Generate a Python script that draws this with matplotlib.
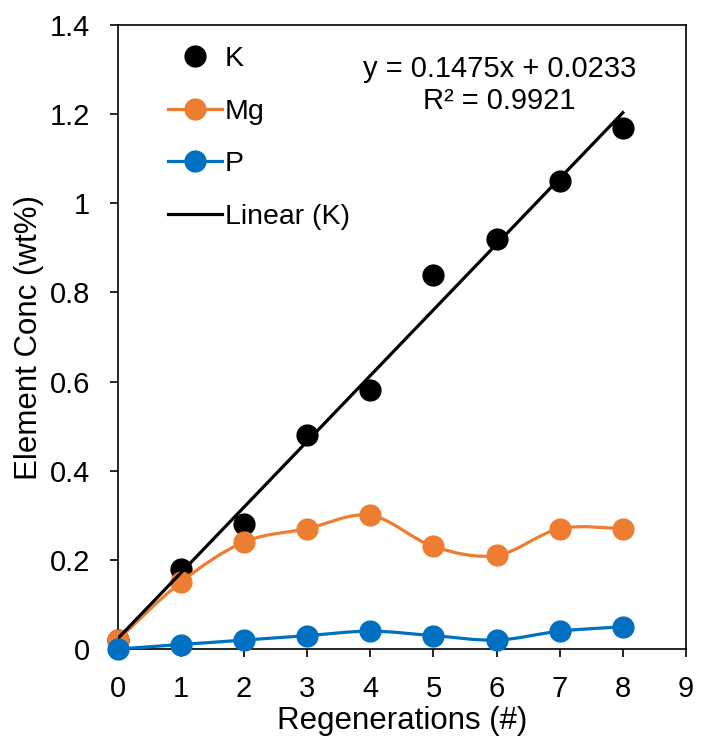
import matplotlib.pyplot as plt
import numpy as np
from matplotlib.path import Path
from matplotlib.patches import PathPatch
from matplotlib.lines import Line2D
from matplotlib.ticker import FormatStrFormatter

plt.rcParams['font.family'] = ['Liberation Sans', 'DejaVu Sans']

# data
regen = [0, 1, 2, 3, 4, 5, 6, 7, 8]
k_conc = [0.02, 0.18, 0.28, 0.48, 0.58, 0.84, 0.92, 1.05, 1.17]
mg_conc = [0.02, 0.15, 0.24, 0.27, 0.30, 0.23, 0.21, 0.27, 0.27]
p_conc = [0.0, 0.01, 0.02, 0.03, 0.04, 0.03, 0.02, 0.04, 0.05]
slope, intercept = 0.1475, 0.0233
eq_text = 'y = 0.1475x + 0.0233\nR² = 0.9921'

orange = '#ED7D31'
blue = '#0070C0'


def smooth_path(x, y):
    """Excel-like smoothed line as cubic Bezier segments"""
    pts = np.column_stack([x, y]).astype(float)
    n = len(pts)
    verts = [pts[0]]
    codes = [Path.MOVETO]
    for i in range(n - 1):
        p0 = pts[max(i - 1, 0)]
        p1 = pts[i]
        p2 = pts[i + 1]
        p3 = pts[min(i + 2, n - 1)]
        c1 = p1 + (p2 - p0) / 6
        c2 = p2 - (p3 - p1) / 6
        verts += [c1, c2, p2]
        codes += [Path.CURVE4] * 3
    return Path(verts, codes)


fig = plt.figure(figsize=(7.05, 7.38), dpi=100)
ax = fig.add_axes([0.167, 0.1206, 0.806, 0.8455])

ms = 15
lw = 2.3

ax.plot(regen, k_conc, 'o', color='black', markersize=ms, clip_on=False, zorder=3)

ax.add_patch(PathPatch(smooth_path(regen, mg_conc), fill=False, edgecolor=orange,
                       linewidth=lw, zorder=4, transform=ax.transData))
ax.plot(regen, mg_conc, 'o', color=orange, markersize=ms, clip_on=False, zorder=4)

xt = np.array([regen[0], regen[-1]])
ax.plot(xt, slope * xt + intercept, color='black', linewidth=lw, zorder=5)

ax.add_patch(PathPatch(smooth_path(regen, p_conc), fill=False, edgecolor=blue,
                       linewidth=lw, zorder=6, transform=ax.transData))
ax.plot(regen, p_conc, 'o', color=blue, markersize=ms, clip_on=False, zorder=6)

ax.set_xlim(0, 9)
ax.set_ylim(0, 1.4)
ax.set_xticks(range(0, 10))
ax.set_yticks(np.arange(0, 1.41, 0.2))
ax.yaxis.set_major_formatter(FormatStrFormatter('%g'))
ax.tick_params(labelsize=21, direction='out', length=6, width=1.2)
ax.tick_params(axis='x', pad=13)
ax.tick_params(axis='y', pad=14)
for s in ax.spines.values():
    s.set_linewidth(1.2)

ax.set_xlabel('Regenerations (#)', fontsize=22.5, labelpad=2)
ax.set_ylabel('Element Conc (wt%)', fontsize=22.5, labelpad=4)

ax.text(6.05, 1.265, eq_text, fontsize=21, ha='center', va='center', linespacing=1.17)

handles = [
    Line2D([], [], marker='o', linestyle='none', color='black', markersize=ms),
    Line2D([], [], marker='o', color=orange, linewidth=lw, markersize=ms),
    Line2D([], [], marker='o', color=blue, linewidth=lw, markersize=ms),
    Line2D([], [], color='black', linewidth=lw),
]
ax.legend(handles, ['K', 'Mg', 'P', 'Linear (K)'], loc='upper left', frameon=False,
          fontsize=20.5, handlelength=1.9, handletextpad=0.1, labelspacing=0.93,
          borderaxespad=0.0, bbox_to_anchor=(0.068, 0.984))

fig.savefig('out.png', dpi=100)
